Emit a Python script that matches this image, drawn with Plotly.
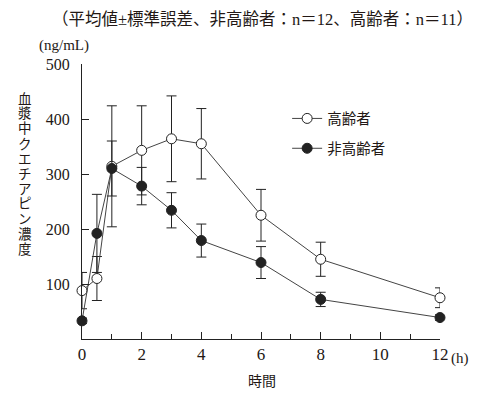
import plotly.graph_objects as go

hours = [0, 0.5, 1, 2, 3, 4, 6, 8, 12]
elderly = [88, 110, 314, 343, 364, 355, 225, 145, 75]
elderly_se = [33, 40, 110, 81, 78, 64, 47, 31, 18]
nonelderly = [33, 192, 310, 278, 234, 179, 139, 72, 39]
nonelderly_se = [5, 71, 50, 34, 32, 30, 29, 13, 5]
x_ticks = [0, 2, 4, 6, 8, 10, 12]
y_ticks = [100, 200, 300, 400, 500]
ytitle = "血漿中クエチアピン濃度"

FONT = "Liberation Serif, Noto Sans CJK JP, serif"
INK = "#231815"

fig = go.Figure()
fig.add_trace(go.Scatter(
    x=hours, y=elderly, name="高齢者", mode="lines+markers",
    legendgroup="a",
    line=dict(color="#444", width=1),
    marker=dict(symbol="circle", size=10, color="white", line=dict(color="#222", width=1)),
    error_y=dict(type="data", array=elderly_se, visible=True, color="#222", thickness=1, width=5),
    cliponaxis=False,
))
fig.add_trace(go.Scatter(
    x=hours, y=nonelderly, name="非高齢者", mode="lines+markers",
    legendgroup="b",
    line=dict(color="#444", width=1),
    marker=dict(symbol="circle", size=10, color="#222", line=dict(color="#222", width=1)),
    error_y=dict(type="data", array=nonelderly_se, visible=True, color="#222", thickness=1, width=5),
    cliponaxis=False,
))

annotations = [
    dict(text="（平均値±標準誤差、非高齢者：n＝12、高齢者：n＝11）", xref="paper", yref="paper",
         x=0.503, y=1, xanchor="center", yanchor="top", yshift=56, showarrow=False,
         font=dict(size=16.5, family=FONT, color=INK)),
    dict(text="(ng/mL)", xref="paper", yref="paper", x=-0.05, y=1, xanchor="center",
         yanchor="middle", yshift=19, showarrow=False, font=dict(size=15, family=FONT, color=INK)),
    dict(text="時間", xref="paper", yref="paper", x=0.503, y=-0.153, xanchor="center",
         yanchor="middle", showarrow=False, font=dict(size=14, family=FONT, color=INK)),
    dict(text="(h)", xref="x", yref="paper", x=12, y=0, xanchor="left", yanchor="top",
         xshift=9, yshift=-9, showarrow=False, font=dict(size=15, family=FONT, color=INK)),
]
for i, ch in enumerate(ytitle):
    ypx = 99 + i * 15
    annotations.append(dict(text=ch, xref="paper", yref="paper", x=-0.158,
                            y=(339 - ypx) / 275, xanchor="center", yanchor="middle",
                            showarrow=False, font=dict(size=13.5, family=FONT, color=INK)))

fig.update_layout(
    width=493, height=390,
    margin=dict(l=74, r=61, t=56, b=59),
    paper_bgcolor="white", plot_bgcolor="white",
    font=dict(family=FONT, color=INK, size=16),
    showlegend=True,
    legend=dict(x=0.573, y=0.86, xanchor="left", yanchor="top",
                font=dict(size=14.5, family=FONT, color=INK),
                bgcolor="rgba(0,0,0,0)", tracegroupgap=8, traceorder="grouped"),
    xaxis=dict(range=[0, 12], tickvals=x_ticks, ticks="inside", ticklen=7, tickcolor="#222",
               showline=True, linecolor="#222", linewidth=1, showgrid=False, zeroline=False,
               tickfont=dict(size=17, family=FONT, color=INK),
               minor=dict(dtick=1, ticks="inside", ticklen=5, tickcolor="#222", showgrid=False)),
    yaxis=dict(range=[0, 500], tickvals=y_ticks, ticks="inside", ticklen=7, tickcolor="#222",
               showline=True, linecolor="#222", linewidth=1, showgrid=False, zeroline=False,
               ticklabelstandoff=8,
               tickfont=dict(size=16, family=FONT, color=INK)),
    annotations=annotations,
)

fig.write_html("out.html")
